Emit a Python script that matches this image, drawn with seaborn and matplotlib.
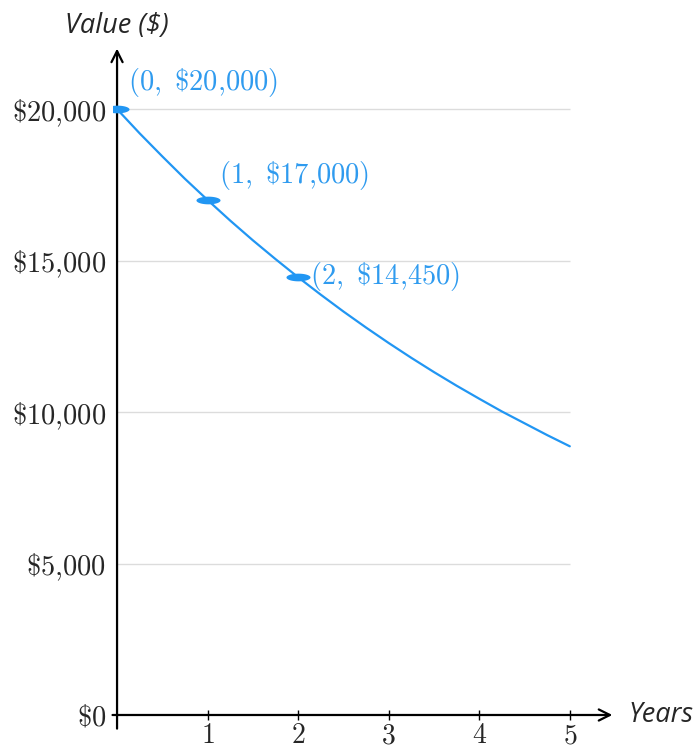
import matplotlib
matplotlib.use("Agg")
import matplotlib.pyplot as plt
from matplotlib.ticker import FuncFormatter
import numpy as np
import seaborn as sns

# values (depreciation, 15% a year)
years = [0, 0.25, 0.5, 0.75, 1, 1.25, 1.5, 1.75, 2, 2.25, 2.5,
         2.75, 3, 3.25, 3.5, 3.75, 4, 4.25, 4.5, 4.75, 5]
values = [20000, 19200, 18440, 17700, 17000, 16320, 15670, 15050, 14450, 13875, 13320,
          12790, 12280, 11790, 11320, 10870, 10440, 10020, 9630, 9240, 8870]

point_years = [0, 1, 2]
point_values = [20000, 17000, 14450]
point_labels = [r"$(0,\ \$20{,}000)$", r"$(1,\ \$17{,}000)$", r"$(2,\ \$14{,}450)$"]

y_ticks = [0, 5000, 10000, 15000, 20000]
x_ticks = [1, 2, 3, 4, 5]

BLUE = "#2196f3"
LABEL_BLUE = "#2f9bef"

sns.set_theme(style="white")
plt.rcParams['font.family'] = ['DejaVu Sans']
plt.rcParams['mathtext.fontset'] = 'cm'

fig = plt.figure(figsize=(6.98, 7.49), dpi=100)
ax = fig.add_axes([0.1612, 0.0272, 0.720, 0.912])
ax.set_xlim(-0.05, 5.5)
ax.set_ylim(-450, 22100)

for s in ax.spines.values():
    s.set_visible(False)
ax.spines['bottom'].set_position(('data', 0))
ax.spines['left'].set_position(('data', 0))

# grid lines only up to year 5
ax.hlines(y_ticks[1:], 0, 5, color="#dcdcdc", lw=1, zorder=1)

# axes with arrows
ax.annotate("", xy=(5.47, 0), xytext=(-0.05, 0),
            arrowprops=dict(arrowstyle="->", lw=1.6, color="black", shrinkA=0, shrinkB=0,
                            mutation_scale=20), zorder=3)
ax.annotate("", xy=(0, 22000), xytext=(0, -450),
            arrowprops=dict(arrowstyle="->", lw=1.6, color="black", shrinkA=0, shrinkB=0,
                            mutation_scale=20), zorder=3)

sns.lineplot(x=years, y=values, ax=ax, color=BLUE, lw=1.6, zorder=4)

t = np.linspace(0, 2 * np.pi, 60)
ellipse = np.column_stack([np.cos(t), 0.32 * np.sin(t)])
sns.scatterplot(x=point_years, y=point_values, ax=ax, color=BLUE, marker=ellipse,
                s=300, linewidth=0, zorder=5)

offsets = [(11, 27), (11, 25), (12, 1)]
for px, py, lab, off in zip(point_years, point_values, point_labels, offsets):
    ax.annotate(lab, xy=(px, py), xytext=off, textcoords="offset pixels",
                ha="left", va="center", color=LABEL_BLUE, fontsize=20.5, zorder=6)

ax.set_xticks(x_ticks)
ax.set_xticklabels([rf"${v}$" for v in x_ticks])
ax.set_yticks(y_ticks)
ax.yaxis.set_major_formatter(FuncFormatter(lambda v, p: r"$\$" + f"{int(v):,}".replace(",", "{,}") + "$"))
ax.tick_params(axis="x", direction="inout", length=7, width=1, color="black",
               labelsize=20, pad=1, bottom=True)
ax.tick_params(axis="y", length=0, labelsize=20.5, pad=8)

ax.annotate("Value ($)", xy=(0, 22000), xytext=(0, 23), textcoords="offset pixels",
            ha="center", va="center", fontsize=19.5, style="italic",
            family=["Open Sans", "DejaVu Sans"])
ax.annotate("Years", xy=(5.47, 0), xytext=(16, 0), textcoords="offset pixels",
            ha="left", va="center", fontsize=19.5, style="italic",
            family=["Open Sans", "DejaVu Sans"])

fig.savefig("out.png", dpi=100)
